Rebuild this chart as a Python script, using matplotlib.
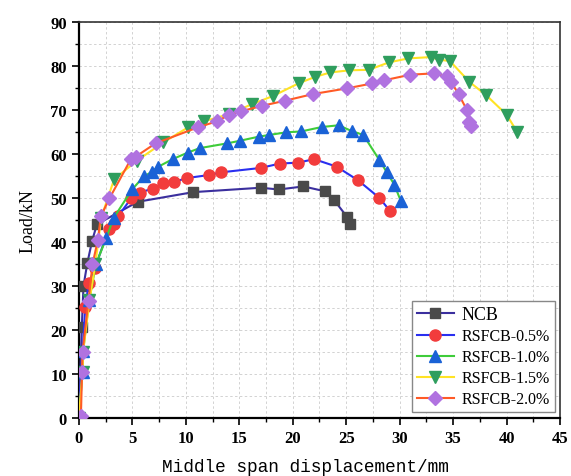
import numpy as np
import matplotlib.pyplot as plt
from matplotlib.ticker import MultipleLocator

# load-displacement data (displacement mm, load kN)
ncb_x = [0, 0.28, 0.44, 0.8, 1.25, 1.7, 5.5, 10.7, 17.0, 18.7, 21.0, 23.0, 23.9, 25.1, 25.4]
ncb_y = [0, 20.6, 30.0, 35.2, 40.3, 44.0, 49.1, 51.3, 52.3, 51.9, 52.6, 51.5, 49.4, 45.6, 44.0]

r05_x = [0, 0.6, 0.93, 1.5, 2.8, 3.3, 3.7, 4.9, 5.7, 6.9, 7.9, 8.9, 10.1, 12.2, 13.3,
         17.0, 18.8, 20.5, 22.0, 24.1, 26.1, 28.1, 29.1]
r05_y = [0, 25.1, 30.6, 34.0, 42.9, 44.0, 45.9, 49.9, 51.2, 52.1, 53.3, 53.6, 54.5, 55.2, 55.8,
         56.8, 57.8, 58.0, 58.8, 57.1, 54.0, 50.0, 47.0]

r10_x = [0, 0.35, 0.4, 0.97, 1.6, 2.56, 3.25, 4.98, 6.09, 6.84, 7.37, 8.77, 10.2, 11.3, 13.9,
         15.1, 16.8, 17.8, 19.4, 20.8, 22.7, 24.3, 25.5, 26.6, 28.1, 28.8, 29.5, 30.1]
r10_y = [0, 10.3, 15.1, 26.7, 34.9, 40.8, 45.4, 51.9, 54.9, 55.9, 57.0, 58.8, 60.3, 61.3, 62.4,
         63.0, 63.9, 64.3, 64.9, 65.1, 66.1, 66.5, 65.2, 64.3, 58.6, 55.8, 53.0, 49.3]

r15_x = [0, 0.35, 0.4, 1.0, 1.55, 2.1, 3.3, 5.4, 7.9, 10.2, 11.7, 14.0, 16.2, 18.2, 20.6,
         22.1, 23.5, 25.3, 27.1, 29.0, 30.8, 32.9, 33.7, 34.7, 36.5, 38.1, 40.0, 41.0]
r15_y = [0, 10.3, 15.0, 26.7, 35.0, 45.5, 54.2, 58.4, 62.6, 66.0, 67.4, 69.0, 71.3, 73.2, 76.1,
         77.5, 78.5, 79.0, 79.1, 80.8, 81.7, 82.0, 81.4, 81.1, 76.4, 73.3, 68.9, 64.9]

r20_x = [0.2, 0.3, 0.35, 0.91, 1.28, 1.78, 2.06, 2.87, 4.87, 5.34, 7.18, 11.1, 12.9, 14.0, 15.2,
         17.1, 19.3, 21.9, 25.1, 27.4, 28.5, 31.0, 33.2, 34.4, 34.8, 35.5, 36.3, 36.5, 36.7]
r20_y = [0.5, 10.3, 15.0, 26.6, 34.9, 40.4, 45.8, 49.9, 58.8, 59.4, 62.4, 66.0, 67.4, 68.8, 69.7,
         70.9, 72.1, 73.6, 74.9, 76.0, 76.7, 78.0, 78.3, 77.6, 76.4, 73.6, 69.9, 67.3, 66.4]

labels = ['NCB', 'RSFCB-0.5%', 'RSFCB-1.0%', 'RSFCB-1.5%', 'RSFCB-2.0%']
line_colors = ['#3b2f9e', '#2a2ff0', '#3fcc3a', '#ffe324', '#ff5a26']
marker_colors = ['#4a4a4a', '#f23c3c', '#1a62d6', '#2f9e5e', '#b072e0']
markers = ['s', 'o', '^', 'v', 'D']
sizes = [7, 8, 8, 8, 7]

series = [(ncb_x, ncb_y), (r05_x, r05_y), (r10_x, r10_y), (r15_x, r15_y), (r20_x, r20_y)]

fig = plt.figure(figsize=(5.71, 4.77), dpi=100)
ax = fig.add_axes([0.138, 0.122, 0.843, 0.830])

for (xs, ys), lab, lc, mc, m, s in zip(series, labels, line_colors, marker_colors, markers, sizes):
    ax.plot(xs, ys, color=lc, lw=1.5, marker=m, markersize=s,
            markerfacecolor=mc, markeredgecolor=mc, label=lab, zorder=3)

ax.set_xlim(0, 45)
ax.set_ylim(0, 90)
ax.xaxis.set_major_locator(MultipleLocator(5))
ax.xaxis.set_minor_locator(MultipleLocator(2.5))
ax.yaxis.set_major_locator(MultipleLocator(10))
ax.yaxis.set_minor_locator(MultipleLocator(5))
ax.grid(True, which='both', ls=(0, (2.5, 2.5)), color='#d2d2d2', lw=0.7, zorder=0)
ax.set_axisbelow(True)

ax.tick_params(which='major', direction='out', length=5, width=1.2)
ax.tick_params(which='minor', direction='out', length=3, width=1.0)
for lab in ax.get_xticklabels() + ax.get_yticklabels():
    lab.set_fontfamily('Liberation Serif')
    lab.set_fontweight('bold')
    lab.set_fontsize(12)

for side in ['left', 'bottom']:
    ax.spines[side].set_linewidth(1.6)
for side in ['top', 'right']:
    ax.spines[side].set_linewidth(1.2)
    ax.spines[side].set_color('#333333')

ax.set_ylabel('Load/kN', fontfamily='Liberation Serif', fontsize=13)
ax.yaxis.set_label_coords(-0.087, 0.5)
ax.set_xlabel('Middle span displacement/mm', fontfamily='Liberation Mono', fontsize=12.8)
ax.xaxis.set_label_coords(0.47, -0.102)

leg = ax.legend(loc='lower right', prop={'family': 'Liberation Serif', 'size': 11.5},
                fancybox=False, edgecolor='#888888', framealpha=1, handlelength=2.3,
                borderaxespad=0.35, labelspacing=0.32, borderpad=0.3, handletextpad=0.5)
leg.get_frame().set_linewidth(1.0)
leg.get_texts()[0].set_fontsize(13)

fig.savefig('out.png', dpi=100)
